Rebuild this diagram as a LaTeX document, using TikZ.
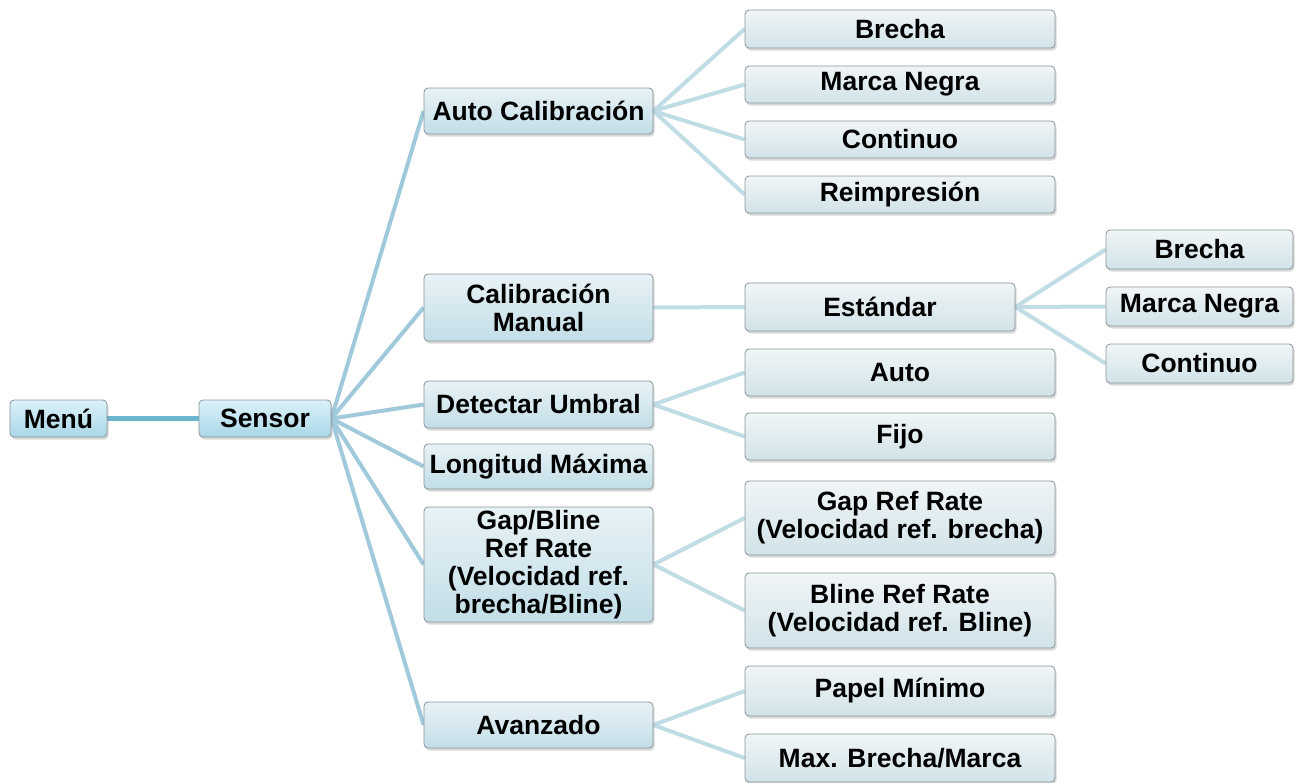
\documentclass[tikz,border=0pt]{standalone}
\usepackage{fontspec}
\setmainfont{Liberation Sans}
\usepackage{xcolor}
\usetikzlibrary{shadows,backgrounds}

\definecolor{rootTop}{HTML}{DCF1F8}
\definecolor{rootBot}{HTML}{A9D7E7}
\definecolor{midTop}{HTML}{E8F2F6}
\definecolor{midBot}{HTML}{C2DEE7}
\definecolor{leafTop}{HTML}{F0F5F7}
\definecolor{leafBot}{HTML}{D1E3E9}
\definecolor{edgeGray}{HTML}{8A9599}
\definecolor{linkA}{HTML}{6BB5CF}
\definecolor{linkB}{HTML}{A0CADB}
\definecolor{linkC}{HTML}{C0DDE6}

\begin{document}
\begin{tikzpicture}[
    x=1pt, y=-1pt,
    box/.style={draw=edgeGray, line width=0.8pt, rounded corners=4pt,
                font=\bfseries\fontsize{26.5}{28}\selectfont, align=center,
                inner sep=2pt,
                drop shadow={opacity=0.3, shadow xshift=1.5pt, shadow yshift=-2.5pt}},
    rootbox/.style={box, top color=rootTop, bottom color=rootBot},
    midbox/.style={box, top color=midTop, bottom color=midBot, minimum width=229},
    leafbox/.style={box, top color=leafTop, bottom color=leafBot, minimum width=310},
    tipbox/.style={box, top color=leafTop, bottom color=leafBot, minimum width=187},
    trunk/.style={line width=5pt, color=linkA},
    branch/.style={line width=4pt, color=linkB},
    twig/.style={line width=4pt, color=linkC},
  ]
  \useasboundingbox (0,0) rectangle (1297,782);

  % Root
  \node[rootbox, minimum width=97, minimum height=37] (menu) at (58.5,418.5) {Menú};
  \node[rootbox, minimum width=132, minimum height=37] (sensor) at (265,418.5) {Sensor};

  % Sensor options
  \node[midbox, minimum height=46] (autocal) at (538.5,111) {Auto Calibración};
  \node[midbox, minimum height=67] (mancal) at (538.5,307.5) {Calibración\\Manual};
  \node[midbox, minimum height=47] (umbral) at (538.5,404.5) {Detectar Umbral};
  \node[midbox, minimum height=45] (longmax) at (538.5,466.5) {Longitud Máxima};
  \node[midbox, minimum height=115] (refrate) at (538.5,564.5)
    {Gap/Bline\\Ref Rate\\(Velocidad ref.\\brecha/Bline)};
  \node[midbox, minimum height=46] (avanz) at (538.5,725) {Avanzado};

  % Auto calibration modes
  \node[leafbox, minimum height=38] (acBrecha) at (900,29) {Brecha};
  \node[leafbox, minimum height=37] (acMarca) at (900,84.5) {Marca Negra};
  \node[leafbox, minimum height=37] (acCont) at (900,139.5) {Continuo};
  \node[leafbox, minimum height=37] (acReimp) at (900,194.5) {Reimpresión};

  % Manual calibration
  \node[leafbox, minimum width=270, minimum height=48] (estandar) at (880,307) {Estándar};
  \node[tipbox, minimum height=39] (esBrecha) at (1199.5,249.5) {Brecha};
  \node[tipbox, minimum height=39] (esMarca) at (1199.5,306.5) {Marca Negra};
  \node[tipbox, minimum height=39] (esCont) at (1199.5,363.5) {Continuo};

  % Threshold
  \node[leafbox, minimum height=47] (umAuto) at (900,372.5) {Auto};
  \node[leafbox, minimum height=47] (umFijo) at (900,436.5) {Fijo};

  % Ref rates
  \node[leafbox, minimum height=74] (gapRate) at (900,518)
    {Gap Ref Rate\\(Velocidad ref. brecha)};
  \node[leafbox, minimum height=75] (blineRate) at (900,610.5)
    {Bline Ref Rate\\(Velocidad ref. Bline)};

  % Advanced
  \node[leafbox, minimum height=50] (papMin) at (900,691) {Papel Mínimo};
  \node[leafbox, minimum height=48] (maxBrecha) at (900,758) {Max. Brecha/Marca};

  \begin{scope}[on background layer]
    \draw[trunk] (menu.east) -- (sensor.west);
    \foreach \kid in {autocal,mancal,umbral,longmax,refrate,avanz}
      \draw[branch] (sensor.east) -- (\kid.west);
    \foreach \kid in {acBrecha,acMarca,acCont,acReimp}
      \draw[twig] (autocal.east) -- (\kid.west);
    \draw[twig] (mancal.east) -- (estandar.west);
    \foreach \kid in {esBrecha,esMarca,esCont}
      \draw[twig] (estandar.east) -- (\kid.west);
    \foreach \kid in {umAuto,umFijo}
      \draw[twig] (umbral.east) -- (\kid.west);
    \foreach \kid in {gapRate,blineRate}
      \draw[twig] (refrate.east) -- (\kid.west);
    \foreach \kid in {papMin,maxBrecha}
      \draw[twig] (avanz.east) -- (\kid.west);
  \end{scope}
\end{tikzpicture}
\end{document}
